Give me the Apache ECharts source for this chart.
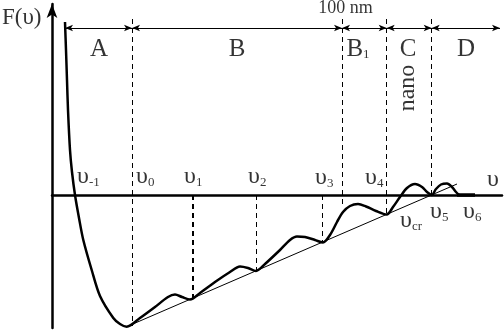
<!DOCTYPE html>
<html><head><meta charset="utf-8">
<script src="https://cdn.jsdelivr.net/npm/echarts@6/dist/echarts.min.js"></script>
<style>html,body{margin:0;padding:0;background:#fff}#c{width:504px;height:331px}</style>
</head><body><div id="c"></div>
<script>
// Free energy curve F(υ)
const curveX = [1.3, 1.4, 1.5, 1.6, 1.8, 2.0, 2.3, 2.7, 3.13, 3.97, 4.8, 6.13, 6.8, 7.47,
  8.8, 10.3, 11.6, 12.3, 13.0, 13.8, 14.8, 16.3, 17.8, 18.8, 19.6, 20.4, 21.3, 22.8, 23.8,
  24.5, 25.3, 26.3, 27.1, 27.8, 28.5, 29.1, 29.8, 30.6, 31.4, 32.4, 33.47, 34.1, 34.8, 35.5,
  36.3, 37.0, 37.5, 37.97, 38.4, 38.9, 39.5, 40.0, 40.4, 40.7];
const curveY = [17.3, 14.5, 11.5, 8.5, 4.5, 2.3, 0, -2.3, -4.5, -7.5, -10.1, -12.3, -12.9, -13.17,
  -12.3, -11.2, -10.2, -9.95, -10.2, -10.45, -9.8, -8.7, -7.7, -7.15, -7.3, -7.6, -6.9, -5.5, -4.5,
  -4.15, -4.2, -4.5, -4.75, -4.0, -2.7, -1.7, -1.1, -0.9, -1.15, -1.6, -1.95, -1.2, -0.2, 0.7,
  1.1, 0.8, 0.3, 0, 0.6, 1.05, 1.15, 0.8, 0.3, 0];
// flat tail
const tailX = [40.5, 42.3];
const tailY = [0, 0];
// common tangent
const tangentX = [7.47, 40.5];
const tangentY = [-13.17, 1.1];
// dashed verticals
const dashX = [8.0, 14.07, 20.47, 27.0, 29.0, 33.47, 37.97];
const dashTop = [17.6, 0, 0, 0, 17.6, 17.6, 17.6];
const dashBottom = [-13.1, -10.4, -7.6, -4.7, -1.3, -1.9, 0];
// region arrow line
const regionBounds = [1.3, 8.0, 29.0, 33.47, 37.97, 44.8];
const regionArrowY = 16.7;
// labels
const labelText = ['F(υ)', 'A', 'B', 'B{s|1}', 'C', 'D', '100 nm', 'nano',
  'υ{s|-1}', 'υ{s|0}', 'υ{s|1}', 'υ{s|2}', 'υ{s|3}', 'υ{s|4}', 'υ{s|cr}', 'υ{s|5}', 'υ{s|6}', 'υ'];
const labelX = [-5.0, 4.7, 18.5, 30.6, 35.6, 41.4, 29.35, 35.6,
  2.5, 8.4, 13.2, 19.6, 26.3, 31.3, 34.8, 37.8, 41.1, 43.5];
const labelY = [17.7, 14.6, 14.6, 14.6, 14.6, 14.6, 18.7, 10.7,
  1.8, 1.8, 1.8, 1.8, 1.7, 1.7, -2.6, -1.7, -1.7, 1.5];

const serif = '"Liberation Serif", "DejaVu Serif", serif';
const chart = echarts.init(document.getElementById('c'));

const curveData = curveX.map((x, i) => [x, curveY[i]]);
const tailData = tailX.map((x, i) => [x, tailY[i]]);
const tangentData = tangentX.map((x, i) => [x, tangentY[i]]);

const dashLines = dashX.map((x, i) => [
  { coord: [x, dashTop[i]], lineStyle: { width: i === 1 ? 2 : 1 } },
  { coord: [x, dashBottom[i]] }
]);
const arrowLines = [];
for (let i = 0; i < regionBounds.length - 1; i++) {
  arrowLines.push([{ coord: [regionBounds[i], regionArrowY] }, { coord: [regionBounds[i + 1], regionArrowY] }]);
}

const labelData = labelText.map((t, i) => {
  let fs = 24, align = 'left', rotate = 0;
  if (i >= 1 && i <= 5) { align = 'center'; fs = 25; }
  if (i === 6) { fs = 18; align = 'center'; }
  if (i === 7) { align = 'center'; rotate = 90; }
  if (i === 0) fs = 23;
  return {
    value: [labelX[i], labelY[i]],
    label: {
      show: true, formatter: t, position: [0, 0], align: align, verticalAlign: 'middle',
      rotate: rotate, fontSize: fs, fontFamily: serif, color: '#000', lineHeight: fs,
      rich: { s: { fontSize: 13, fontFamily: serif, color: '#000', lineHeight: 13, padding: [13, 0, 0, 0], verticalAlign: 'bottom' } }
    }
  };
});

chart.setOption({
  animation: false,
  backgroundColor: '#fff',
  grid: { left: 52, right: 2, top: 4, bottom: 3 },
  xAxis: {
    type: 'value', min: 0, max: 45,
    axisLine: { show: true, onZero: true, lineStyle: { color: '#000', width: 2.5 } },
    axisTick: { show: false }, axisLabel: { show: false }, splitLine: { show: false }
  },
  yAxis: {
    type: 'value', min: -13.3, max: 19.1,
    axisLine: { show: true, symbol: ['none', 'arrow'], symbolSize: [8, 14], lineStyle: { color: '#000', width: 2.5 } },
    axisTick: { show: false }, axisLabel: { show: false }, splitLine: { show: false }
  },
  series: [
    {
      type: 'line', data: tangentData, showSymbol: false, silent: true,
      lineStyle: { color: '#000', width: 1 },
      markLine: {
        silent: true, symbol: ['none', 'none'], label: { show: false },
        lineStyle: { color: '#000', type: [5, 4], width: 1 },
        data: dashLines
      }
    },
    {
      type: 'line', data: [], showSymbol: false, silent: true,
      markLine: {
        silent: true, symbol: ['arrow', 'arrow'], symbolSize: [5, 8], label: { show: false },
        lineStyle: { color: '#000', type: 'solid', width: 1 },
        data: arrowLines
      }
    },
    {
      type: 'line', data: curveData, smooth: 0.3, showSymbol: false, silent: true,
      lineStyle: { color: '#000', width: 2.5 }
    },
    {
      type: 'line', data: tailData, showSymbol: false, silent: true,
      lineStyle: { color: '#000', width: 3.5 }
    },
    {
      type: 'scatter', data: labelData, symbolSize: 0, clip: false, silent: true
    }
  ]
});
</script>
</body></html>
